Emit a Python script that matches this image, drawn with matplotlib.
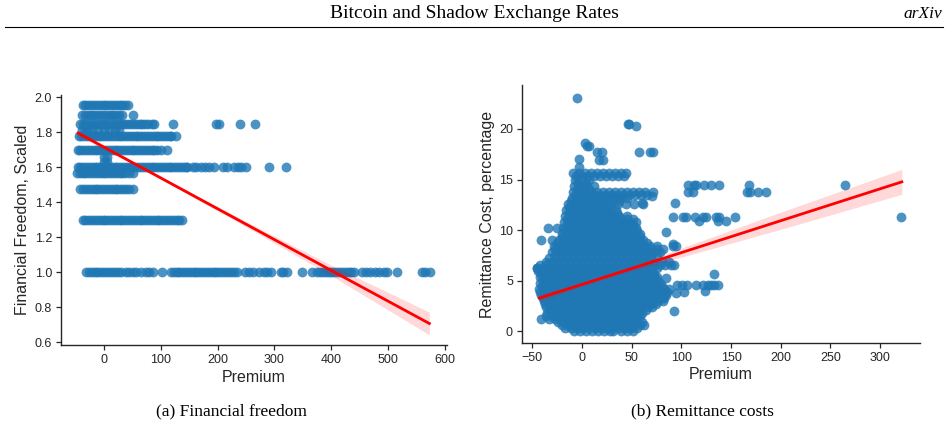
import numpy as np
import matplotlib
matplotlib.use("Agg")
import matplotlib.pyplot as plt
from matplotlib.lines import Line2D

# ---------------- data: panel (a) Financial freedom ----------------
ff_rows = {
    1.955: [-37, -32, -27, -22, -17, -12, -7, -2, 3, 8, 13, 18, 23, 28, 33, 38, 42],
    1.90: [-38, -33, -28, -23, -18, -13, -8, -3, 2, 7, 12, 17, 22, 27, 33, 52],
    1.845: [-42, -37, -32, -27, -22, -17, -12, -7, -2, 3, 8, 13, 18, 23, 28, 33, 38, 43,
            48, 53, 58, 63, 68, 73, 78, 84, 89, 121, 197, 202, 240, 265],
    1.81: [-38, -33, -28, -20, -10, 0, 10, 20, 27],
    1.78: [-44, -39, -34, -29, -24, -19, -14, -9, -4, 1, 6, 11, 16, 21, 26, 31, 36, 41, 46,
           51, 56, 61, 66, 71, 76, 81, 86, 91, 96, 101, 106, 111, 116, 118, 127],
    1.70: [-46, -41, -36, -31, -26, -21, -16, -11, -6, -1, 4, 9, 14, 19, 24, 29, 34, 39, 44,
           49, 54, 59, 64, 69, 74, 79, 84, 89, 94, 100, 111],
    1.66: [0, 5],
    1.63: [0, 5],
    1.60: [-46, -41, -36, -31, -26, -21, -16, -11, -6, -1, 4, 9, 14, 19, 24, 29, 34, 39, 44,
           49, 54, 59, 64, 69, 74, 79, 84, 89, 94, 99, 104, 109, 114, 119, 124, 129, 134,
           139, 144, 147, 156, 163, 171, 178, 185, 194, 209, 217, 229, 236, 241, 250, 290, 321],
    1.565: [-47, -42, -37, -32, -27, -22, -17, -12, -7, -2, 3, 8, 13, 18, 23, 28, 33, 38, 45, 51],
    1.475: [-41, -36, -31, -26, -21, -16, -11, -6, -1, 4, 9, 14, 19, 24, 29, 34, 39, 45, 51],
    1.30: [-37, -32, -27, -22, -17, -12, -7, -2, 3, 8, 13, 18, 23, 28, 33, 38, 43, 48, 53,
           58, 63, 68, 73, 78, 83, 88, 93, 98, 103, 108, 113, 118, 123, 128, 133, 138],
    1.00: [-31, -26, -21, -16, -11, -6, -1, 4, 9, 14, 19, 25, 30, 39, 45, 51, 57, 65, 74, 80,
           86, 103, 118, 123, 128, 133, 138, 143, 148, 153, 158, 163, 168, 173, 178, 183,
           188, 193, 198, 203, 208, 213, 218, 223, 229, 235, 249, 255, 262, 273, 282, 287,
           293, 311, 315, 322, 349, 366, 375, 380, 385, 390, 395, 400, 405, 410, 415, 420,
           425, 430, 435, 439, 454, 460, 468, 477, 483, 492, 498, 515, 559, 565, 574],
}
ff_fit_x = [-45, 100, 250, 400, 572]
ff_fit_y = [1.795, 1.539, 1.274, 1.009, 0.706]
ff_fit_hw = [0.015, 0.007, 0.015, 0.030, 0.065]

# ---------------- data: panel (b) Remittance costs ----------------
rc_rows = {
    0.0: [-8, -2, 4, 10, 16, 22, 28, 31, 39, 45, 51],
    0.3: [-17, -11, -5, 1, 7, 13, 19, 25, 31, 37, 43, 49, 55],
    0.6: [-20, -14, -8, -2, 4, 10, 16, 22, 28, 34, 40, 46, 52, 58, 62],
    0.9: [-24, -18, -12, -6, 0, 6, 12, 18, 24, 30, 36, 42, 48, 54, 60],
    1.2: [-41, -33, -27, -21, -15, -9, -3, 3, 9, 15, 21, 27, 33, 39, 45, 51, 55],
    1.5: [-36, -30, -24, -18, -12, -6, 0, 6, 12, 18, 24, 30, 36, 42, 48, 54, 58],
    1.8: [-35, -29, -23, -17, -11, -5, 1, 7, 13, 19, 25, 31, 37, 43, 49, 55, 60],
    2.1: [-32, -26, -20, -14, -8, -2, 4, 10, 16, 22, 28, 34, 40, 46, 52, 58, 64],
    2.4: [-36, -30, -24, -18, -12, -6, 0, 6, 12, 18, 24, 30, 36, 42, 48, 54, 60, 66, 70],
    2.7: [-37, -33, -27, -21, -15, -9, -3, 3, 9, 15, 21, 27, 33, 39, 45, 51, 57, 63, 69, 74],
    3.0: [-38, -32, -26, -20, -14, -8, -2, 4, 10, 16, 22, 28, 34, 40, 46, 52, 58, 64, 70, 76, 81],
    3.3: [-39, -35, -29, -23, -17, -11, -5, 1, 7, 13, 19, 25, 31, 37, 43, 49, 55, 61, 67, 73, 79, 83],
    3.6: [-41, -35, -29, -23, -17, -11, -5, 1, 7, 13, 19, 25, 31, 37, 43, 49, 55, 61, 67, 73, 79, 85],
    3.9: [-42, -38, -32, -26, -20, -14, -8, -2, 4, 10, 16, 22, 28, 34, 40, 46, 52, 58, 64, 70, 76, 82, 86],
    4.2: [-43, -37, -31, -25, -19, -13, -7, -1, 5, 11, 17, 23, 29, 35, 41, 47, 53, 59, 65, 71, 77, 83, 88],
    4.5: [-40, -34, -28, -22, -16, -10, -4, 2, 8, 14, 20, 26, 32, 38, 44, 50, 56, 62, 68, 74, 80],
    4.8: [-42, -36, -30, -24, -18, -12, -6, 0, 6, 12, 18, 24, 30, 36, 42, 48, 54, 60, 66, 72, 78],
    5.1: [-39, -33, -27, -21, -15, -9, -3, 3, 9, 15, 21, 27, 33, 39, 45, 51, 57, 63, 69, 75],
    5.4: [-42, -36, -30, -24, -18, -12, -6, 0, 6, 12, 18, 24, 30, 36, 42, 48, 54, 60, 66, 72, 75],
    5.7: [-41, -35, -29, -23, -17, -11, -5, 1, 7, 13, 19, 25, 31, 37, 43, 49, 55, 61, 67, 72],
    6.0: [-44, -38, -32, -26, -20, -14, -8, -2, 4, 10, 16, 22, 28, 34, 40, 46, 52, 58, 64, 70],
    6.3: [-45, -39, -33, -27, -21, -15, -9, -3, 3, 9, 15, 21, 27, 33, 39, 45, 51, 57, 63, 69, 75],
    6.6: [-42, -36, -30, -24, -18, -12, -6, 0, 6, 12, 18, 24, 30, 36, 42, 48, 54, 60, 66, 72, 78, 84, 90, 93],
    6.9: [-36, -30, -24, -18, -12, -6, 0, 6, 12, 18, 24, 30, 36, 42, 48, 54, 60, 66, 72, 80, 88],
    7.2: [-33, -27, -21, -15, -9, -3, 3, 9, 15, 21, 27, 33, 39, 45, 51, 57, 63, 68],
    7.5: [-27, -21, -15, -9, -3, 3, 9, 15, 21, 27, 33, 39, 45, 51, 57, 63, 69, 75],
    7.8: [-30, -24, -18, -12, -6, 0, 6, 12, 18, 24, 30, 36, 42, 48, 54, 60, 66, 72, 78],
    8.1: [-27, -21, -15, -9, -3, 3, 9, 15, 21, 27, 33, 39, 45, 51, 57, 63, 69, 75, 81],
    8.4: [-28, -22, -16, -10, -4, 2, 8, 14, 20, 26, 32, 38, 44, 50, 56, 62, 68, 75, 92, 95],
    8.7: [-25, -19, -13, -7, -1, 5, 11, 17, 23, 29, 35, 41, 47, 53, 59, 65],
    9.0: [-41, -30, -23, -17, -11, -5, 1, 7, 13, 19, 25, 31, 37, 43, 49, 55, 61],
    9.3: [-20, -14, -8, -2, 4, 10, 16, 22, 28, 34, 40, 46, 52, 58],
    9.6: [-20, -14, -8, -2, 4, 10, 16, 22, 28, 34, 40, 46, 52, 58],
    9.9: [-17, -11, -5, 1, 7, 13, 19, 25, 31, 37, 43, 49, 55],
    10.2: [-34, -25, -19, -13, -7, -1, 5, 11, 17, 23, 29, 35, 41, 47, 54],
    10.5: [-15, -9, -3, 3, 9, 15, 21, 27, 33, 39, 45, 51],
    10.8: [-18, -12, -6, 0, 6, 12, 18, 24, 30, 36, 42, 48, 54],
    11.1: [-15, -9, -3, 3, 9, 15, 21, 27, 33, 39, 45, 51],
    11.4: [-17, -11, -5, 1, 7, 13, 19, 25, 31, 37, 45],
    11.7: [-13, -7, -1, 5, 11, 17, 23, 29, 35],
    12.0: [-16, -10, -4, 2, 8, 14, 20, 26, 34],
    12.3: [-13, -7, -1, 5, 11, 17, 23, 29],
    12.6: [-14, -8, -2, 4, 10, 16, 22, 28, 36, 44, 52, 61],
    12.9: [-11, -5, 1, 7, 13, 19, 25, 31, 37],
    13.2: [-10, -4, 2, 8, 14, 20, 26, 32, 38, 45],
    13.5: [-7, -1, 5, 11, 17, 23, 29, 35, 41, 47, 53, 59, 65],
    13.8: [-9, -3, 3, 9, 15, 21, 27, 33, 39, 45, 51, 57, 63, 71],
    14.1: [-5, 1, 7],
    14.4: [-8, -2, 4, 12],
    14.7: [-4, 4],
    15.0: [-7, -1, 7],
    15.3: [-6, 0, 6, 12, 18, 24, 30, 36, 42],
    15.6: [-9, -3, 3, 9, 15, 21, 27, 33, 39, 44],
}
rc_extra_x = [-5.4, 46.4, 47.7, 54.4, 3.4, 4.7, 7.4, 15, 19.8, 21.5, 17.5, 57.8, 68.9, 71.9,
              -3.4, -2.7, 70.6, 60.5, 93.8, 85, 92, -45,
              96, 101, 106, 115, 122, 127, 130, 133, 137, 133, 95, 103, 124, 93, 85,
              92, 101.5, 105, 114, 122, 125, 135, 138, 154, 117.6, 145, 137,
              106.5, 111.6, 166, 169, 177, 185,
              106.5, 113, 115, 123, 130, 138, 168, 265, 321]
rc_extra_y = [23.1, 20.5, 20.5, 20.3, 18.6, 18.3, 18.3, 17.7, 17.7, 16.9, 16.9, 17.7, 17.7, 17.7,
              17.0, 16.2, 13.4, 12.7, 12.7, 9.8, 8.65, 6.3,
              4.6, 4.6, 4.6, 4.6, 4.6, 4.6, 4.6, 4.6, 4.6, 5.66, 3.8, 3.9, 4.0, 2.0, 5.3,
              11.3, 11.3, 11.3, 11.3, 11.3, 11.3, 11.3, 11.3, 11.3, 10.9, 10.9, 10.9,
              13.8, 13.8, 13.8, 13.8, 13.8, 13.8,
              14.5, 14.5, 14.5, 14.5, 14.5, 14.5, 14.5, 14.5, 11.25]
rc_fit_x = [-43, 0, 50, 100, 200, 322]
rc_fit_y = [3.29, 4.64, 6.21, 7.78, 10.93, 14.77]
rc_fit_hw = [0.35, 0.18, 0.22, 0.45, 0.85, 1.23]

# ---------------- text ----------------
header_title = "Bitcoin and Shadow Exchange Rates"
header_right = "arXiv"
caption_a = "(a) Financial freedom"
caption_b = "(b) Remittance costs"

def rows_to_xy(rows):
    xs, ys = [], []
    for yv, xl in rows.items():
        xs.extend(xl)
        ys.extend([yv] * len(xl))
    return np.array(xs, float), np.array(ys, float)

ff_x, ff_y = rows_to_xy(ff_rows)
rc_x, rc_y = rows_to_xy(rc_rows)
rc_x = np.concatenate([rc_x, rc_extra_x])
rc_y = np.concatenate([rc_y, rc_extra_y])

W, H = 948, 428
fig = plt.figure(figsize=(W / 100, H / 100), dpi=100)
fig.patch.set_facecolor("white")

sans = ["Liberation Sans", "DejaVu Sans"]
serif = ["Liberation Serif", "DejaVu Serif"]
dark = "#262626"
blue = "#1f77b4"

def px_axes(x0, y0, x1, y1):
    return fig.add_axes([x0 / W, 1 - y1 / H, (x1 - x0) / W, (y1 - y0) / H])

def style(ax):
    for s in ("top", "right"):
        ax.spines[s].set_visible(False)
    for s in ("left", "bottom"):
        ax.spines[s].set_color(dark)
        ax.spines[s].set_linewidth(1.0)
    ax.tick_params(direction="out", length=3.5, width=0.9, colors=dark,
                   labelsize=9, pad=3)
    for lab in ax.get_xticklabels() + ax.get_yticklabels():
        lab.set_fontfamily(sans)

# panel a
ax1 = px_axes(61, 95, 447, 345)
ax1.scatter(ff_x, ff_y, s=50, color=blue, alpha=0.8, linewidths=0, zorder=2)
fx = np.array(ff_fit_x); fy = np.array(ff_fit_y); fh = np.array(ff_fit_hw)
ax1.fill_between(fx, fy - fh, fy + fh, color="red", alpha=0.15, linewidth=0, zorder=3)
ax1.plot(fx, fy, color="red", lw=2.0, zorder=4)
ax1.set_xlim(-75, 603)
ax1.set_ylim(0.583, 2.013)
ax1.set_xticks([0, 100, 200, 300, 400, 500, 600])
ax1.set_yticks([0.6, 0.8, 1.0, 1.2, 1.4, 1.6, 1.8, 2.0])
ax1.set_xlabel("Premium", fontsize=11.5, family=sans, color=dark, labelpad=2.5)
ax1.set_ylabel("Financial Freedom, Scaled", fontsize=11.5, family=sans, color=dark, labelpad=3)
style(ax1)

# panel b
ax2 = px_axes(522, 85, 920, 343)
ax2.scatter(rc_x, rc_y, s=50, color=blue, alpha=0.8, linewidths=0, zorder=2)
gx = np.array(rc_fit_x); gy = np.array(rc_fit_y); gh = np.array(rc_fit_hw)
ax2.fill_between(gx, gy - gh, gy + gh, color="red", alpha=0.15, linewidth=0, zorder=3)
ax2.plot(gx, gy, color="red", lw=2.0, zorder=4)
ax2.set_xlim(-60.5, 340.3)
ax2.set_ylim(-1.15, 24.34)
ax2.set_xticks([-50, 0, 50, 100, 150, 200, 250, 300])
ax2.set_yticks([0, 5, 10, 15, 20])
ax2.set_xlabel("Premium", fontsize=11.5, family=sans, color=dark, labelpad=2.5)
ax2.set_ylabel("Remittance Cost, percentage", fontsize=11.5, family=sans, color=dark, labelpad=3)
style(ax2)

# header & captions
fig.text(474 / W, 1 - 14 / H, header_title, ha="center", va="center",
         fontsize=14, family=serif, color="black")
fig.text(942 / W, 1 - 14 / H, header_right, ha="right", va="center",
         fontsize=12.5, family=serif, style="italic", color="black")
fig.add_artist(Line2D([5 / W, 943 / W], [1 - 26.5 / H, 1 - 26.5 / H],
                      transform=fig.transFigure, color="black", lw=0.8))
fig.text(231 / W, 1 - 411 / H, caption_a, ha="center", va="center",
         fontsize=12.5, family=serif, color="black")
fig.text(702 / W, 1 - 411 / H, caption_b, ha="center", va="center",
         fontsize=12.5, family=serif, color="black")

fig.savefig("out.png", dpi=100, facecolor="white")
